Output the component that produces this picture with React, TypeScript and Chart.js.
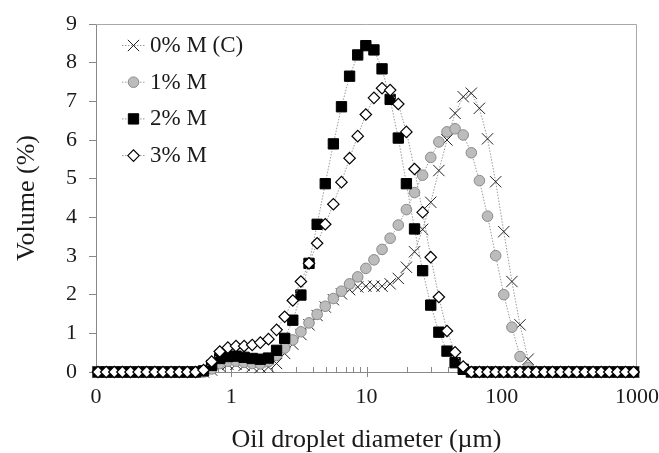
import React, { useEffect, useRef } from 'react';
import { Chart, registerables, PointElement } from 'chart.js';

Chart.register(...registerables);

// Oil droplet diameter classes (µm)
const diameters = [
  0.1035, 0.1189, 0.1365, 0.1567, 0.1799, 0.2065, 0.2371, 0.2723, 0.3126, 0.3589,
  0.4121, 0.4732, 0.5433, 0.6237, 0.7161, 0.8222, 0.9441, 1.084, 1.245, 1.429,
  1.641, 1.884, 2.163, 2.483, 2.851, 3.273, 3.758, 4.315, 4.955, 5.689,
  6.531, 7.499, 8.61, 9.886, 11.35, 13.03, 14.96, 17.18, 19.72, 22.65,
  26.0, 29.85, 34.28, 39.36, 45.19, 51.88, 59.57, 68.39, 78.52, 90.16,
  103.5, 118.9, 136.5, 156.7, 179.9, 206.5, 237.1, 272.3, 312.6, 358.9,
  412.1, 473.2, 543.3, 623.7, 716.1, 822.2, 944.1,
];

// Volume (%) per class
const vol0 = [
  0, 0, 0, 0, 0, 0, 0, 0, 0, 0,
  0, 0, 0, 0, 0.05, 0.15, 0.2, 0.2, 0.17, 0.14,
  0.12, 0.13, 0.22, 0.48, 0.72, 0.97, 1.22, 1.46, 1.68, 1.87,
  2.02, 2.13, 2.2, 2.22, 2.22, 2.22, 2.28, 2.42, 2.71, 3.11,
  3.69, 4.39, 5.21, 6.0, 6.69, 7.12, 7.21, 6.82, 6.03, 4.92,
  3.63, 2.34, 1.22, 0.33, 0, 0, 0, 0, 0, 0,
  0, 0, 0, 0, 0, 0, 0,
];
const vol1 = [
  0, 0, 0, 0, 0, 0, 0, 0, 0, 0,
  0, 0, 0, 0, 0.08, 0.22, 0.28, 0.28, 0.25, 0.22,
  0.21, 0.27, 0.43, 0.62, 0.83, 1.04, 1.27, 1.49, 1.7, 1.9,
  2.09, 2.28, 2.46, 2.68, 2.9, 3.17, 3.46, 3.8, 4.2, 4.64,
  5.09, 5.55, 5.95, 6.21, 6.29, 6.13, 5.67, 4.95, 4.03, 3.01,
  2.0, 1.16, 0.4, 0.12, 0, 0, 0, 0, 0, 0,
  0, 0, 0, 0, 0, 0, 0,
];
const vol2 = [
  0, 0, 0, 0, 0, 0, 0, 0, 0, 0,
  0, 0, 0, 0.03, 0.17, 0.35, 0.4, 0.41, 0.38, 0.35,
  0.33, 0.36, 0.56, 0.87, 1.34, 1.99, 2.81, 3.82, 4.87, 5.9,
  6.86, 7.65, 8.2, 8.44, 8.33, 7.84, 7.05, 6.05, 4.87, 3.7,
  2.62, 1.73, 1.03, 0.54, 0.24, 0.07, 0, 0, 0, 0,
  0, 0, 0, 0, 0, 0, 0, 0, 0, 0,
  0, 0, 0, 0, 0, 0, 0,
];
const vol3 = [
  0, 0, 0, 0, 0, 0, 0, 0, 0, 0,
  0, 0, 0, 0.05, 0.27, 0.53, 0.63, 0.67, 0.67, 0.7,
  0.76, 0.85, 1.09, 1.43, 1.85, 2.34, 2.81, 3.33, 3.82, 4.34,
  4.91, 5.53, 6.1, 6.66, 7.09, 7.34, 7.29, 6.93, 6.21, 5.25,
  4.13, 2.97, 1.94, 1.06, 0.51, 0.14, 0, 0, 0, 0,
  0, 0, 0, 0, 0, 0, 0, 0, 0, 0,
  0, 0, 0, 0, 0, 0, 0,
];

const seriesLabels = ['0% M (C)', '1% M', '2% M', '3% M'];
const yTickValues = [0, 1, 2, 3, 4, 5, 6, 7, 8, 9];
const xMajorTicks = [0.1, 1, 10, 100, 1000];
const xMajorLabels = ['0', '1', '10', '100', '1000'];
const xTitle = 'Oil droplet diameter (µm)';
const yTitle = 'Volume (%)';

const FONT = "'Liberation Serif', 'Times New Roman', serif";
const LINE_COLOR = '#9a9a9a';

const markerStyles = [
  { pointStyle: 'crossRot', radius: 8, backgroundColor: '#000', borderColor: '#222', borderWidth: 1 },
  { pointStyle: 'circle', radius: 5.3, backgroundColor: '#bcbcbc', borderColor: '#8a8a8a', borderWidth: 1 },
  { pointStyle: 'rect', radius: 7.3, backgroundColor: '#000', borderColor: '#000', borderWidth: 1 },
  { pointStyle: 'rectRot', radius: 5.7, backgroundColor: '#fff', borderColor: '#000', borderWidth: 1.2 },
];

const seriesValues = [vol0, vol1, vol2, vol3];

function buildXTicks() {
  const out: { value: number; major: boolean }[] = [];
  for (let d = 0; d < xMajorTicks.length; d++) {
    out.push({ value: xMajorTicks[d], major: true });
    if (d < xMajorTicks.length - 1) {
      for (let k = 2; k <= 9; k++) out.push({ value: xMajorTicks[d] * k, major: false });
    }
  }
  return out;
}

const decorPlugin = {
  id: 'decor',
  beforeDatasetsDraw(chart: any) {
    const { ctx, chartArea } = chart;
    const { left, right, top, bottom } = chartArea;
    const x = chart.scales.x;
    ctx.save();
    ctx.lineWidth = 1;
    ctx.strokeStyle = '#a8a8a8';
    ctx.beginPath();
    ctx.moveTo(left, top + 0.5);
    ctx.lineTo(right - 0.5, top + 0.5);
    ctx.lineTo(right - 0.5, bottom);
    ctx.stroke();
    ctx.strokeStyle = '#888';
    ctx.beginPath();
    x.ticks.forEach((t: any) => {
      const px = Math.round(x.getPixelForValue(t.value)) + 0.5;
      if (t.major) {
        ctx.moveTo(px, bottom - 5);
        ctx.lineTo(px, bottom + 5);
      } else {
        ctx.moveTo(px, bottom - 5);
        ctx.lineTo(px, bottom);
      }
    });
    ctx.stroke();
    ctx.restore();
  },
  afterDraw(chart: any) {
    const { ctx, chartArea } = chart;
    ctx.save();
    const baseY = chartArea.top + 21;
    const step = 36.7;
    seriesLabels.forEach((label, i) => {
      const y = baseY + i * step;
      ctx.strokeStyle = LINE_COLOR;
      ctx.lineWidth = 1;
      ctx.setLineDash([1.5, 1.5]);
      ctx.beginPath();
      ctx.moveTo(122, y + 0.5);
      ctx.lineTo(145, y + 0.5);
      ctx.stroke();
      ctx.setLineDash([]);
      const st = markerStyles[i];
      const pt: any = new (PointElement as any)({
        x: 133.5,
        y: y + 0.5,
        options: {
          pointStyle: st.pointStyle,
          radius: st.radius,
          rotation: 0,
          borderWidth: st.borderWidth,
          borderColor: st.borderColor,
          backgroundColor: st.backgroundColor,
        },
      });
      pt.draw(ctx, { left: 0, top: 0, right: 10000, bottom: 10000 });
      ctx.fillStyle = '#1a1a1a';
      ctx.font = `23px ${FONT}`;
      ctx.textAlign = 'left';
      ctx.textBaseline = 'middle';
      ctx.fillText(label, 150, y + 1);
    });
    ctx.restore();
  },
};

export default function App() {
  const ref = useRef<HTMLCanvasElement | null>(null);

  useEffect(() => {
    if (!ref.current) return;
    const datasets = seriesLabels.map((label, i) => {
      const st = markerStyles[i];
      return {
        label,
        data: diameters.map((d, j) => ({ x: d, y: seriesValues[i][j] })),
        showLine: true,
        borderColor: LINE_COLOR,
        borderWidth: 1,
        borderDash: [1.5, 1.5],
        tension: 0,
        fill: false,
        pointStyle: st.pointStyle,
        pointRadius: st.radius,
        pointBackgroundColor: st.backgroundColor,
        pointBorderColor: st.borderColor,
        pointBorderWidth: st.borderWidth,
        clip: false,
        order: 3 - i,
      };
    });

    const chart = new Chart(ref.current, {
      type: 'line',
      data: { datasets } as any,
      plugins: [decorPlugin as any],
      options: {
        animation: false,
        responsive: false,
        devicePixelRatio: 1,
        layout: { padding: { top: 24, right: 22, left: 0, bottom: 0 } },
        plugins: { legend: { display: false }, tooltip: { enabled: false } },
        scales: {
          x: {
            type: 'logarithmic',
            min: 0.1,
            max: 1000,
            afterBuildTicks: (s: any) => {
              s.ticks = buildXTicks();
            },
            afterFit: (s: any) => {
              s.height = 81;
              s.paddingLeft = 0;
              s.paddingRight = 0;
            },
            ticks: {
              autoSkip: false,
              maxRotation: 0,
              minRotation: 0,
              padding: 12,
              color: '#1a1a1a',
              font: { family: FONT, size: 22 },
              callback: (v: any) => {
                const idx = xMajorTicks.findIndex((m) => Math.abs(m - Number(v)) < 1e-9 * Math.max(1, m));
                return idx >= 0 ? xMajorLabels[idx] : '';
              },
            },
            grid: { display: false, drawTicks: false },
            border: { display: true, color: '#888', width: 1 },
            title: {
              display: true,
              text: xTitle,
              color: '#1a1a1a',
              font: { family: FONT, size: 26, lineHeight: 1 },
              padding: 0,
            },
          },
          y: {
            type: 'linear',
            min: 0,
            max: 9,
            afterBuildTicks: (s: any) => {
              s.ticks = yTickValues.map((v) => ({ value: v }));
            },
            afterFit: (s: any) => {
              s.width = 96;
              s.paddingTop = 0;
              s.paddingBottom = 0;
            },
            ticks: {
              padding: 12,
              color: '#1a1a1a',
              font: { family: FONT, size: 22 },
            },
            grid: { drawOnChartArea: false, drawTicks: true, tickLength: 7, color: '#888' },
            border: { display: true, color: '#888', width: 1 },
            title: {
              display: true,
              text: yTitle,
              color: '#1a1a1a',
              font: { family: FONT, size: 26, lineHeight: 1 },
              padding: 14,
            },
          },
        },
      } as any,
    });
    return () => chart.destroy();
  }, []);

  return (
    <div style={{ position: 'absolute', left: 0, top: 0, width: 659, height: 453, background: '#fff' }}>
      <canvas ref={ref} width={659} height={453} style={{ width: 659, height: 453 }} />
    </div>
  );
}
